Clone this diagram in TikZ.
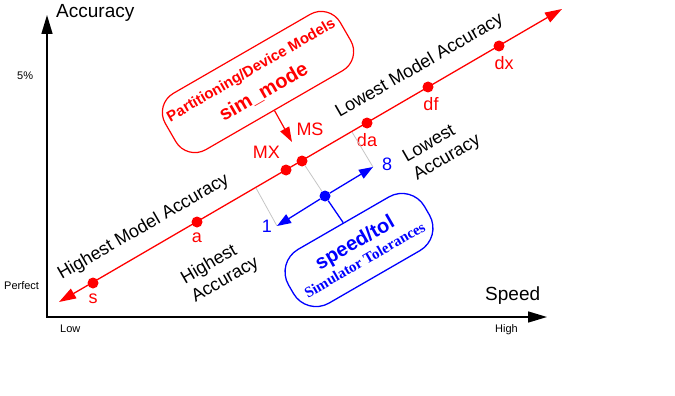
\documentclass[tikz,border=0pt]{standalone}
\usepackage{fontspec}
\setmainfont{Liberation Sans}
\newfontfamily\serifbold{Liberation Serif}
\usetikzlibrary{arrows.meta,positioning}

\begin{document}
\begin{tikzpicture}[
    x=1pt, y=-1pt,
    axisline/.style={line width=1.5pt, {Triangle[length=19pt,width=11pt]}-{Triangle[length=19pt,width=11pt]}},
    modelline/.style={red, line width=1.3pt, {Triangle[length=17pt,width=11pt]}-{Triangle[length=17pt,width=11pt]}},
    mdot/.style={circle, fill=red, inner sep=0pt, minimum size=11pt},
    tdot/.style={circle, fill=blue, inner sep=0pt, minimum size=11pt},
    lbl/.style={red, inner sep=0pt, font=\fontsize{18}{21}\selectfont},
    tlbl/.style={blue, inner sep=0pt, font=\fontsize{18}{21}\selectfont},
    note/.style={rotate=30, inner sep=0pt, font=\fontsize{18}{21}\selectfont},
    scalelbl/.style={inner sep=0pt, anchor=base west, font=\fontsize{11}{13}\selectfont},
    axislbl/.style={inner sep=0pt, anchor=base west, font=\fontsize{19}{22}\selectfont},
    modebox/.style={draw=red, line width=1.2pt, rounded corners=22pt, rotate=30, text=red,
                minimum width=202pt, minimum height=65pt, inner sep=2pt, align=center, font=\bfseries},
    tolbox/.style={draw=blue, line width=1.3pt, rounded corners=26pt, rotate=30, text=blue,
                minimum width=157pt, minimum height=62pt, inner sep=2pt, align=center, font=\bfseries},
    ptr/.style={red, line width=1.2pt, -{Triangle[length=15pt,width=10pt]}},
    tolarr/.style={blue, line width=1.3pt, -{Triangle[length=14pt,width=10pt]}},
    ext/.style={gray!45, line width=0.8pt}
  ]
    \useasboundingbox (0,0) rectangle (675,396);

    % axes
    \coordinate (origin)   at (47,317);
    \coordinate (acctop)   at (47,15);
    \coordinate (speedend) at (547,317);
    \draw[axisline] (acctop) -- (origin) -- (speedend);
    \node[axislbl] (acclbl)   at (56,18)   {Accuracy};
    \node[axislbl] (speedlbl) at (485,300) {Speed};
    \node[scalelbl] (pct)     at (17,80)   {5\%};
    \node[scalelbl] (perfect) at (4,289)   {Perfect};
    \node[scalelbl] (low)     at (60,332)  {Low};
    \node[scalelbl] (high)    at (495,332) {High};

    % model line
    \coordinate (best)  at (59,302);
    \coordinate (worst) at (562,9);
    \draw[modelline] (best) -- (worst);
    \node[mdot] (s)  at (93,283)  {};
    \node[mdot] (a)  at (197,222) {};
    \node[mdot] (mx) at (286,170) {};
    \node[mdot] (ms) at (302,161) {};
    \node[mdot] (da) at (367,123) {};
    \node[mdot] (df) at (428,87)  {};
    \node[mdot] (dx) at (499,46)  {};
    \node[lbl, below=5pt of s]  (slbl)  {s};
    \node[lbl, below=5pt of a]  (albl)  {a};
    \node[lbl, below=5pt of da] (dalbl) {da};
    \node[lbl, below=5pt of df, xshift=3pt] (dflbl) {df};
    \node[lbl, below=5pt of dx, xshift=5pt] (dxlbl) {dx};
    \node[lbl, above left=7pt and 2pt of mx] (mxlbl) {MX};
    \node[lbl, above=19pt of ms, xshift=8pt] (mslbl) {MS};

    \node[note, anchor=base] (bestnote)  at (146,231) {Highest Model Accuracy};
    \node[note, anchor=base] (worstnote) at (422,70)  {Lowest Model Accuracy};
    \node[note, align=left]  (fastnote)  at (220,271) {Highest\\Accuracy};
    \node[note, align=left]  (slownote)  at (442,149) {Lowest\\Accuracy};

    % sim_mode
    \node[modebox] (simmode) at (258,82)
        {{\fontsize{15}{18}\selectfont Partitioning/Device Models}\\[8pt]{\fontsize{20}{24}\selectfont sim\_mode}};
    \coordinate (modetip) at (292,142);
    \draw[ptr] (simmode.south) -- (modetip);

    % speed/tol
    \node[tdot] (tol) at (325,196) {};
    \coordinate (tolmin) at (277,226);
    \coordinate (tolmax) at (373,167);
    \coordinate (ext1) at (256,188);
    \coordinate (ext8) at (352,132);
    \draw[ext] (ms) -- (tol);
    \draw[ext] (ext1) -- (tolmin);
    \draw[ext] (ext8) -- (tolmax);
    \draw[tolarr] (tol) -- (tolmin);
    \draw[tolarr] (tol) -- (tolmax);
    \node[tlbl, left=5pt of tolmin] (minlbl) {1};
    \node[tlbl, right=9pt of tolmax, yshift=3pt] (maxlbl) {8};
    \node[tolbox] (tolerances) at (359,250)
        {{\fontsize{20}{24}\selectfont speed/tol}\\[3pt]{\serifbold\fontsize{15}{18}\selectfont Simulator Tolerances}};
    \draw[blue, line width=1.3pt] (tolerances.north) -- (tol);
\end{tikzpicture}
\end{document}
